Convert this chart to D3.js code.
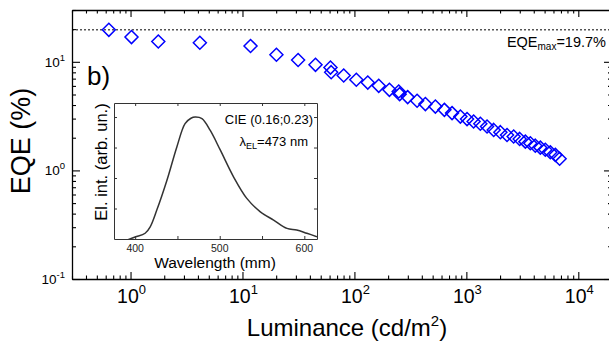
<!DOCTYPE html>
<html><head><meta charset="utf-8">
<script src="https://cdn.jsdelivr.net/npm/d3@7"></script>
<style>
body{margin:0;background:#fff}
svg{display:block;font-family:"Liberation Sans",Arial,sans-serif}
</style>
</head><body>
<svg id="c" width="609" height="346"></svg>
<script>
// Main data: EQE vs luminance
const luminance=[0.64,1.02,1.77,4.16,11.8,20.1,31.4,44.9,61.1,62.0,80.2,104,131.6,164.9,205.4,248.7,253.6,299,363,430.5,528.7,636.5,745,884,1014,1161,1333,1530,1754,2013,2308,2645,2993,3365,3727,4130,4581,5073,5623,6237,6808];
const eqe=[19.7,16.9,15.4,15.0,14.0,11.6,10.4,9.38,8.85,8.03,7.48,6.83,6.44,6.01,5.52,5.33,5.04,4.73,4.38,4.08,3.87,3.61,3.37,3.13,2.97,2.82,2.69,2.54,2.36,2.25,2.12,2.05,1.95,1.84,1.78,1.69,1.62,1.55,1.47,1.39,1.28];
const eqeMax=19.7;
const xMajor=[1,10,100,1000,10000];
const xMajorExp=["0","1","2","3","4"];
const yMajor=[0.1,1,10];
const yMajorExp=["-1","0","1"];
// Inset data: EL spectrum
const wavelength=[390,400,411.8,417.8,425.6,437.5,449.3,459,466,471,479,488.8,500.6,516.3,532,548,563.7,579.5,591,603,615];
const intensity=[-0.01,0.016,0.047,0.10,0.237,0.48,0.755,0.946,0.99,1.0,0.987,0.89,0.73,0.51,0.333,0.223,0.155,0.087,0.074,0.047,0.019];
const insetXTicks=[400,500,600];
const insetXMinor=[400,450,500,550,600];
const insetYTicks=[0.25,0.5,0.75,1.0];

const svg=d3.select("#c");
const L=72,R=612,T=10,B=279;
const x=d3.scaleLog().domain([0.3,2e4]).range([L,R]);
const y=d3.scaleLog().domain([0.1,30]).range([B,T]);

function minors(lo,hi){const a=[];for(let e=Math.floor(Math.log10(lo));e<=Math.ceil(Math.log10(hi));e++){for(let m=2;m<=9;m++){const v=m*Math.pow(10,e);if(v>=lo&&v<=hi)a.push(v);}}return a;}
const xMin=minors(0.3,2e4), yMin=minors(0.1,30), yMinR=minors(0.1,10);

function drawAxis(axisGen,transform,vals,size){
  const g=svg.append("g").attr("transform",transform)
    .call(axisGen.tickValues(vals).tickSize(size).tickSizeOuter(0).tickFormat(""));
  g.select(".domain").attr("stroke","#000").attr("stroke-width",1.3);
  g.selectAll(".tick line").attr("stroke","#000").attr("stroke-width",1.1);
  return g;
}
// bottom (ticks inward = up)
drawAxis(d3.axisTop(x),`translate(0,${B})`,xMajor,7);
drawAxis(d3.axisTop(x),`translate(0,${B})`,xMin,3.5).select(".domain").remove();
// top (ticks inward = down)
drawAxis(d3.axisBottom(x),`translate(0,${T})`,xMajor,7);
drawAxis(d3.axisBottom(x),`translate(0,${T})`,xMin,3.5).select(".domain").remove();
// left (ticks inward = right)
drawAxis(d3.axisRight(y),`translate(${L},0)`,yMajor,8);
drawAxis(d3.axisRight(y),`translate(${L},0)`,yMin,4).select(".domain").remove();
// right (ticks inward = left)
drawAxis(d3.axisLeft(y),`translate(${R},0)`,yMajor.filter(v=>v<=10),8);
drawAxis(d3.axisLeft(y),`translate(${R},0)`,yMinR,4).select(".domain").remove();

// x tick labels
xMajor.forEach((v,i)=>{
  const t=svg.append("text").attr("x",x(v)+1).attr("y",303).attr("text-anchor","middle")
    .attr("font-size",19.5).attr("fill","#000");
  t.append("tspan").text("10");
  t.append("tspan").attr("font-size",13).attr("dy",-9).text(xMajorExp[i]);
});
// y tick labels
yMajor.forEach((v,i)=>{
  const t=svg.append("text").attr("x",65).attr("y",y(v)+5).attr("text-anchor","end")
    .attr("font-size",13.5).attr("fill","#000");
  t.append("tspan").text("10");
  t.append("tspan").attr("font-size",9.5).attr("dy",-6).text(yMajorExp[i]);
});

// axis titles
const xt=svg.append("text").attr("x",347).attr("y",336).attr("text-anchor","middle").attr("font-size",24).attr("fill","#000");
xt.append("tspan").text("Luminance (cd/m");
xt.append("tspan").attr("font-size",15).attr("dy",-10).text("2");
xt.append("tspan").attr("dy",10).text(")");
svg.append("text").attr("transform","translate(30,141) rotate(-90)").attr("text-anchor","middle")
  .attr("font-size",27).attr("fill","#000").text("EQE (%)");

// dotted max line
svg.append("line").attr("x1",L).attr("x2",609).attr("y1",y(eqeMax)).attr("y2",y(eqeMax))
  .attr("stroke","#000").attr("stroke-width",1).attr("stroke-dasharray","2,2");
const et=svg.append("text").attr("x",606).attr("y",47).attr("text-anchor","end").attr("font-size",14.5).attr("fill","#000");
et.append("tspan").text("EQE");
et.append("tspan").attr("font-size",10).attr("dy",3).text("max");
et.append("tspan").attr("dy",-3).text("=19.7%");

svg.append("text").attr("x",87).attr("y",85).attr("font-size",26).attr("fill","#000").text("b)");

// markers
const pts=luminance.map((v,i)=>[v,eqe[i]]);
svg.append("g").selectAll("path").data(pts).enter().append("path")
  .attr("d",d=>{const cx=x(d[0]),cy=y(d[1]),r=6.5;return `M${cx},${cy-r}L${cx+r},${cy}L${cx},${cy+r}L${cx-r},${cy}Z`;})
  .attr("fill","none").attr("stroke","#0000ff").attr("stroke-width",1.5);

// inset
const iL=114,iR=317,iT=103,iB=239;
const ix=d3.scaleLinear().domain([375,615]).range([iL,iR]);
const iy=d3.scaleLinear().domain([0,1.115]).range([iB,iT]);
const ig=svg.append("g");
ig.append("rect").attr("x",iL).attr("y",iT).attr("width",iR-iL).attr("height",iB-iT).attr("fill","#fff");
svg.append("clipPath").attr("id","ic").append("rect").attr("x",iL).attr("y",iT).attr("width",iR-iL).attr("height",iB-iT);
function insetAxis(gen,tr,vals,size){
  const g=ig.append("g").attr("transform",tr).call(gen.tickValues(vals).tickSize(size).tickSizeOuter(0).tickFormat(""));
  g.select(".domain").attr("stroke","#333").attr("stroke-width",1);
  g.selectAll(".tick line").attr("stroke","#333").attr("stroke-width",1);
}
insetAxis(d3.axisTop(ix),`translate(0,${iB})`,insetXMinor,3);
insetAxis(d3.axisBottom(ix),`translate(0,${iT})`,insetXMinor,3);
insetAxis(d3.axisRight(iy),`translate(${iL},0)`,insetYTicks,3);
insetAxis(d3.axisLeft(iy),`translate(${iR},0)`,insetYTicks,3);
insetXTicks.forEach(v=>{
  ig.append("text").attr("x",ix(v)).attr("y",252).attr("text-anchor","middle").attr("font-size",10.5).attr("fill","#222").text(v);
});
ig.append("text").attr("x",215).attr("y",268).attr("text-anchor","middle").attr("font-size",15.5).attr("fill","#000").text("Wavelength (mm)");
ig.append("text").attr("transform","translate(107,162) rotate(-90)").attr("text-anchor","middle").attr("font-size",16.5).attr("fill","#000").text("El. int. (arb. un.)");
const line=d3.line().x((d,i)=>ix(wavelength[i])).y((d,i)=>iy(intensity[i])).curve(d3.curveCatmullRom);
ig.append("path").datum(intensity).attr("d",line).attr("clip-path","url(#ic)")
  .attr("fill","none").attr("stroke","#333").attr("stroke-width",1.5);
ig.append("text").attr("x",313).attr("y",124).attr("text-anchor","end").attr("font-size",13).attr("fill","#000").text("CIE (0.16;0.23)");
const lt=ig.append("text").attr("x",308).attr("y",146).attr("text-anchor","end").attr("font-size",13).attr("fill","#000");
lt.append("tspan").text("λ");
lt.append("tspan").attr("font-size",9).attr("dy",3).text("EL");
lt.append("tspan").attr("dy",-3).text("=473 nm");
</script>
</body></html>
